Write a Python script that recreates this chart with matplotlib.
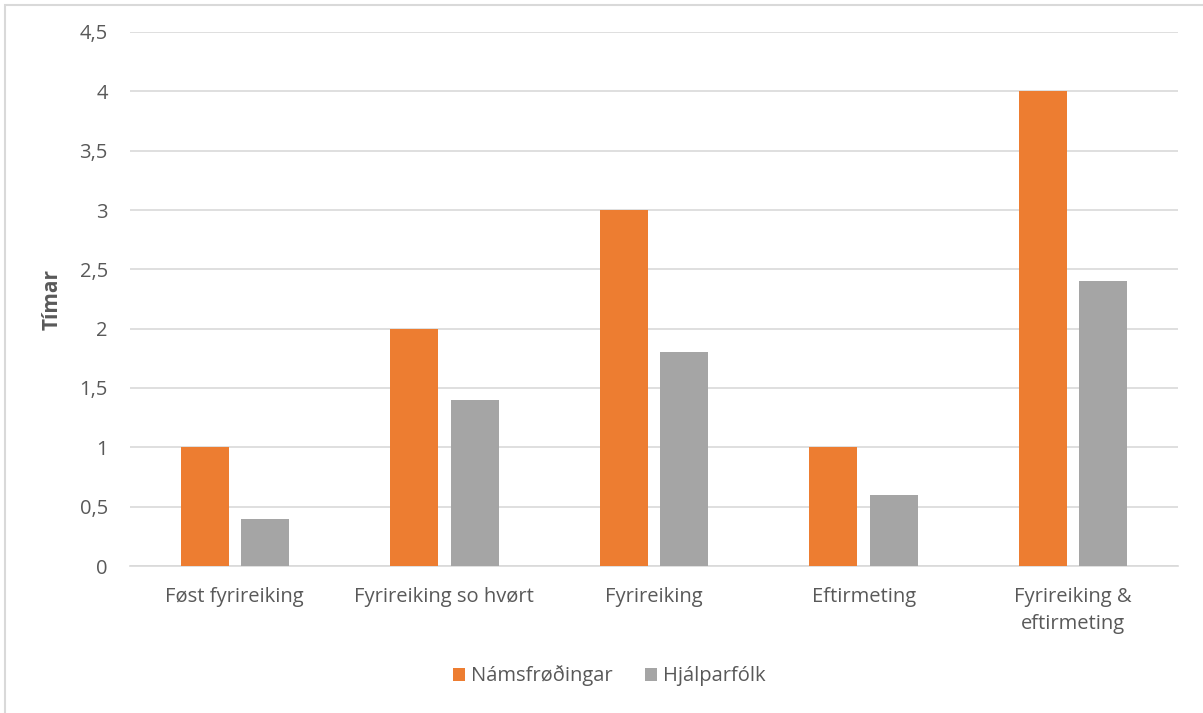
import numpy as np
import matplotlib.pyplot as plt
from matplotlib.patches import Rectangle

plt.rcParams['font.family'] = ['Open Sans', 'DejaVu Sans']

# data
categories = ['Føst fyrireiking', 'Fyrireiking so hvørt', 'Fyrireiking',
              'Eftirmeting', 'Fyrireiking &\neftirmeting']
series_names = ['Námsfrøðingar', 'Hjálparfólk']
namsfrodingar = [1, 2, 3, 1, 4]
hjalparfolk = [0.4, 1.4, 1.8, 0.6, 2.4]
yticks = [0, 0.5, 1, 1.5, 2, 2.5, 3, 3.5, 4, 4.5]
ytick_labels = ['0', '0,5', '1', '1,5', '2', '2,5', '3', '3,5', '4', '4,5']

orange = '#ED7D31'
grey = '#A5A5A5'
text_col = '#595959'

W, H = 1203, 713
fig = plt.figure(figsize=(W / 100, H / 100), dpi=100)
ax = fig.add_axes([130 / W, 1 - 566 / H, (1178 - 130) / W, (566 - 32) / H])

x = np.arange(len(categories))
bw = 0.229
off = 0.144
ax.bar(x - off, namsfrodingar, bw, color=orange, label=series_names[0], zorder=3)
ax.bar(x + off, hjalparfolk, bw, color=grey, label=series_names[1], zorder=3)

ax.set_xlim(-0.5, len(categories) - 0.5)
ax.set_ylim(0, 4.5)
ax.set_yticks(yticks)
ax.set_yticklabels(ytick_labels)
ax.set_xticks(x)
ax.set_xticklabels(categories, linespacing=1.5)
ax.tick_params(axis='both', length=0, labelsize=14.5, colors=text_col)
ax.tick_params(axis='y', pad=16)
ax.tick_params(axis='x', pad=15)
ax.grid(axis='y', color='#D9D9D9', linewidth=1.2, zorder=0)
for s in ['top', 'right', 'left']:
    ax.spines[s].set_visible(False)
ax.spines['bottom'].set_color('#D9D9D9')
ax.spines['bottom'].set_linewidth(1.2)

ax.set_ylabel('Tímar', fontsize=15, color=text_col, fontweight='bold')
ax.yaxis.set_label_coords(-0.064, 0.5)

fig.legend(loc='center', bbox_to_anchor=(609 / W, 1 - 676 / H), ncol=2,
           frameon=False, fontsize=14.5, handlelength=0.6, handleheight=0.6,
           handletextpad=0.3, columnspacing=1.6, labelcolor=text_col)

fig.patches.append(Rectangle((5 / W, -0.05), 1.2, 1 - 5 / H + 0.05,
                             transform=fig.transFigure, fill=False,
                             edgecolor='#D9D9D9', linewidth=1.5))

fig.savefig('out.png', dpi=100)
